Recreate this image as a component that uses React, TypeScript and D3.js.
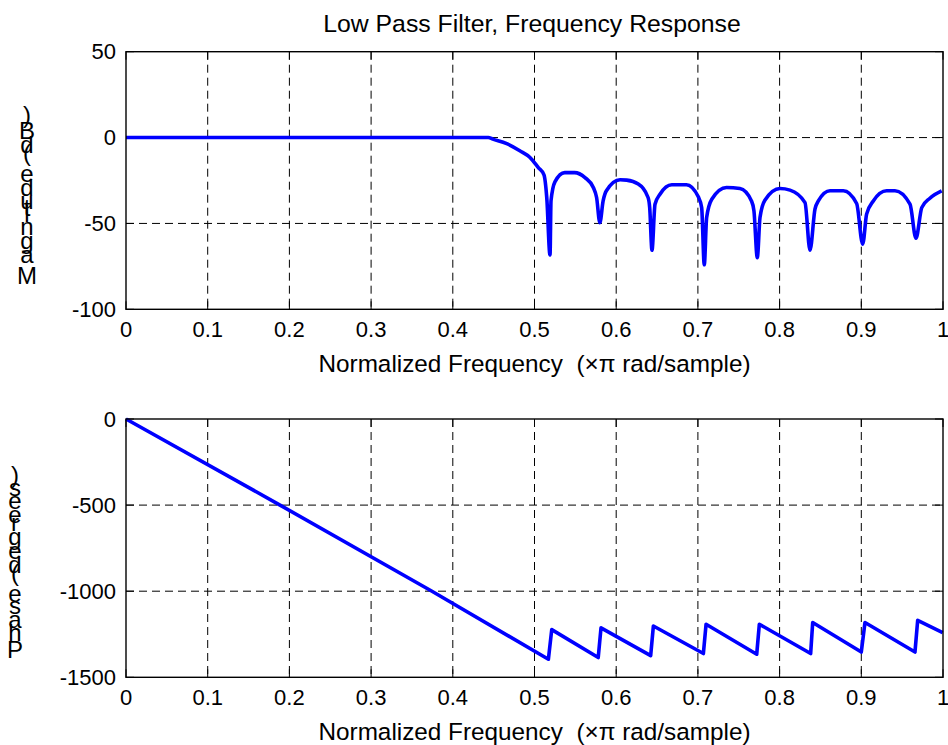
import React from 'react';
import * as d3 from 'd3';

// values
const xTicks = [0, 0.1, 0.2, 0.3, 0.4, 0.5, 0.6, 0.7, 0.8, 0.9, 1];
const magTicks = [50, 0, -50, -100];
const phaseTicks = [0, -500, -1000, -1500];

const magFreq = [
  0, 0.4435, 0.449, 0.466, 0.482, 0.4945, 0.5047, 0.5116, 0.515, 0.519, 0.5202, 0.525, 0.537, 0.549,
  0.5618, 0.572, 0.576, 0.58, 0.584, 0.588, 0.6047, 0.6128, 0.627, 0.639, 0.641, 0.6438, 0.6475,
  0.6536, 0.668, 0.686, 0.7005, 0.7046, 0.7078, 0.7107, 0.717, 0.735, 0.7515, 0.7656, 0.7686, 0.7727,
  0.776, 0.782, 0.8005, 0.8127, 0.8311, 0.8372, 0.8433, 0.8474, 0.8617, 0.878, 0.8943, 0.9017, 0.9065,
  0.9147, 0.931, 0.9412, 0.9596, 0.9669, 0.974, 0.984, 0.9984,
];
const magDb = [
  0, 0, -0.9, -3.5, -7.7, -11.6, -17.5, -21.7, -34.9, -68.5, -36.9, -25.8, -20.4, -20.4,
  -23.3, -29.1, -34.9, -49.5, -36.9, -31, -24.6, -24.8, -27.1, -34.9, -40.8, -65.6, -38.8,
  -33, -27.5, -27.5, -34.5, -40.8, -74.1, -46.6, -35.9, -29.1, -29.7, -36.9, -42.7, -69.9,
  -46.6, -36.5, -29.7, -30.6, -37.9, -65.6, -41.7, -36.9, -31, -31, -38.4, -62.1, -44.6,
  -36.9, -31, -31, -38.8, -58.6, -40.8, -35.3, -31,
];

const phaseFreq = [
  0, 0.1885, 0.3745, 0.517, 0.5211, 0.578, 0.5814, 0.6422, 0.6455, 0.7067, 0.71, 0.772, 0.7752,
  0.838, 0.8405, 0.9, 0.9045, 0.9657, 0.969, 0.9996,
];
const phaseDeg = [
  0, -500, -1000, -1395, -1223, -1385, -1213, -1374, -1202, -1362, -1192, -1366, -1192,
  -1362, -1182, -1353, -1182, -1353, -1169, -1240,
];

const FONT = '"Liberation Sans", Arial, Helvetica, sans-serif';
const LEFT = 126;
const RIGHT = 943;

let ctx: CanvasRenderingContext2D | null = null;
const textWidth = (s: string, size: number) => {
  if (!ctx) ctx = document.createElement('canvas').getContext('2d');
  if (!ctx) return s.length * size * 0.55;
  ctx.font = `${size}px "Liberation Sans", Arial, sans-serif`;
  return ctx.measureText(s).width;
};

// glyphs sit upright but are spaced as if the string were rotated
const StackedLabel = ({ text, cx, center }: { text: string; cx: number; center: number }) => {
  const size = 24;
  const total = textWidth(text, size);
  const start = center + total / 2 + 21;
  return (
    <g>
      {text.split('').map((ch, i) =>
        ch === ' ' ? null : (
          <text
            key={i}
            x={cx}
            y={start - textWidth(text.slice(0, i), size) * 1.03}
            textAnchor="middle"
            fontSize={size}
            fontFamily={FONT}
          >
            {ch}
          </text>
        )
      )}
    </g>
  );
};

const Panel = ({ top, bottom, domain, yTicks, xs, ys, curve, ylabel, labelX }: any) => {
  const x = d3.scaleLinear().domain([0, 1]).range([LEFT, RIGHT]);
  const y = d3.scaleLinear().domain(domain).range([bottom, top]);
  const line = d3
    .line<number>()
    .x((d, i) => x(xs[i]))
    .y((d) => y(d))
    .curve(curve);

  return (
    <g>
      {/* grid */}
      {xTicks
        .filter((t) => t > 0 && t < 1)
        .map((t) => (
          <line key={'gx' + t} x1={x(t)} x2={x(t)} y1={top} y2={bottom} stroke="#000" strokeWidth={1} strokeDasharray="8,5" />
        ))}
      {yTicks
        .filter((t: number) => t > domain[0] && t < domain[1])
        .map((t: number) => (
          <line key={'gy' + t} x1={LEFT} x2={RIGHT} y1={y(t)} y2={y(t)} stroke="#000" strokeWidth={1} strokeDasharray="8,5" />
        ))}

      {/* ticks */}
      {xTicks.map((t) => (
        <g key={'tx' + t}>
          <line x1={x(t)} x2={x(t)} y1={bottom} y2={bottom - 8} stroke="#000" />
          <line x1={x(t)} x2={x(t)} y1={top} y2={top + 8} stroke="#000" />
          <text x={x(t)} y={bottom + 28} textAnchor="middle" fontSize={22} fontFamily={FONT}>
            {t}
          </text>
        </g>
      ))}
      {yTicks.map((t: number) => (
        <g key={'ty' + t}>
          <line x1={LEFT} x2={LEFT + 8} y1={y(t)} y2={y(t)} stroke="#000" />
          <line x1={RIGHT} x2={RIGHT - 8} y1={y(t)} y2={y(t)} stroke="#000" />
          <text x={116} y={y(t)} dy="0.35em" textAnchor="end" fontSize={22} fontFamily={FONT}>
            {t}
          </text>
        </g>
      ))}

      <path d={line(ys) || ''} fill="none" stroke="#0000ff" strokeWidth={3.6} strokeLinejoin="round" />

      <rect x={LEFT} y={top} width={RIGHT - LEFT} height={bottom - top} fill="none" stroke="#000" strokeWidth={1.4} />

      <text x={(LEFT + RIGHT) / 2} y={bottom + 62.5} textAnchor="middle" fontSize={24.3} fontFamily={FONT}>
        Normalized Frequency{'\u00a0\u00a0'}(×π rad/sample)
      </text>
      <StackedLabel text={ylabel} cx={labelX} center={(top + bottom) / 2} />
    </g>
  );
};

export default function App() {
  return (
    <svg
      width={948}
      height={745}
      style={{ position: 'absolute', left: 0, top: 0, background: '#fff' }}
    >
      <rect width={948} height={745} fill="#fff" />
      <text x={532} y={31.7} textAnchor="middle" fontSize={24.8} fontFamily={FONT}>
        Low Pass Filter, Frequency Response
      </text>
      <Panel
        top={51.7}
        bottom={309.3}
        domain={[-100, 50]}
        yTicks={magTicks}
        xs={magFreq}
        ys={magDb}
        curve={d3.curveMonotoneX}
        ylabel="Magnitude (dB)"
        labelX={27}
      />
      <Panel
        top={419}
        bottom={677.3}
        domain={[-1500, 0]}
        yTicks={phaseTicks}
        xs={phaseFreq}
        ys={phaseDeg}
        curve={d3.curveLinear}
        ylabel="Phase (degrees)"
        labelX={15}
      />
    </svg>
  );
}
